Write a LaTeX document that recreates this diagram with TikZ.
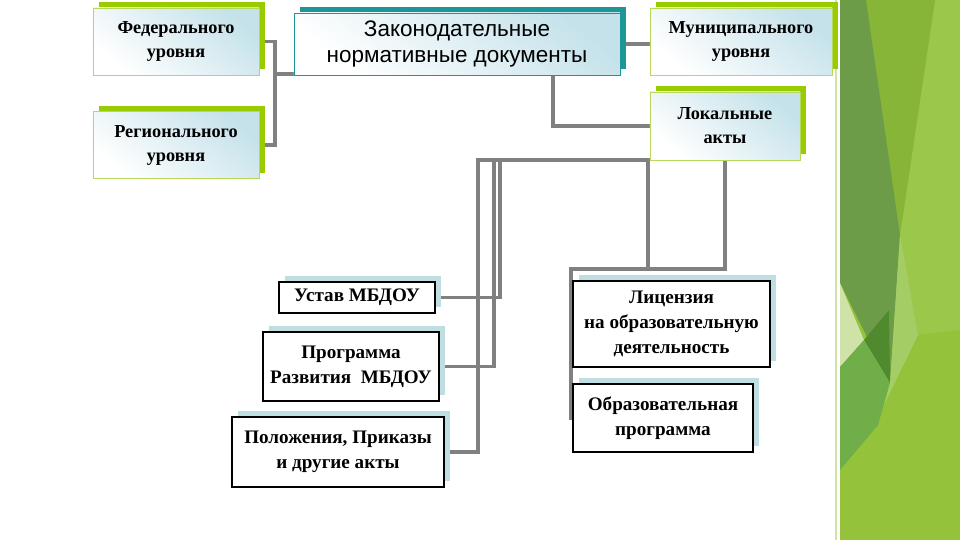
\documentclass[tikz,border=0pt]{standalone}
\usepackage{fontspec}
\setmainfont{Liberation Serif}
\setsansfont{Liberation Sans}
\usepackage{tikz}
\usetikzlibrary{positioning, calc, backgrounds, shadows}
\definecolor{cLime}{RGB}{153,204,0}
\definecolor{cTeal}{RGB}{28,150,150}
\definecolor{cEdge}{RGB}{185,215,90}
\definecolor{cIce}{RGB}{197,226,234}
\definecolor{cPale}{RGB}{190,222,226}
\definecolor{cWire}{RGB}{128,128,128}
% side panel greens
\definecolor{cLeaf}{RGB}{148,194,58}
\definecolor{cOlive}{RGB}{134,181,55}
\definecolor{cMoss}{RGB}{108,156,72}
\definecolor{cCream}{RGB}{207,226,167}
\definecolor{cForest}{RGB}{79,138,46}
\definecolor{cFern}{RGB}{111,174,73}
\definecolor{cSprout}{RGB}{164,205,101}
\definecolor{cLight}{RGB}{155,200,75}
\tikzset{
	level/.style={rectangle, draw=cEdge, line width=0.6pt, top color=cIce, bottom color=white, shading angle=-40, align=center, inner sep=2pt, font=\bfseries\fontsize{13}{17}\selectfont, general shadow={fill=cLime, shadow xshift=0.15cm, shadow yshift=0.15cm}},
	title/.style={rectangle, draw=cTeal, line width=0.6pt, top color=cIce, bottom color=white, shading angle=-40, align=center, inner sep=2pt, font=\sffamily\fontsize{16}{19}\selectfont, general shadow={fill=cTeal, shadow xshift=0.15cm, shadow yshift=0.15cm}},
	doc/.style={rectangle, draw=black, line width=0.8pt, fill=white, align=center, inner sep=2pt, font=\bfseries\fontsize{13.6}{17.5}\selectfont, general shadow={fill=cPale, shadow xshift=0.15cm, shadow yshift=0.15cm}},
	link/.style={draw=cWire, line width=2.8pt},
}
\begin{document}
\begin{tikzpicture}[x=0.025cm, y=-0.025cm]
	\useasboundingbox (0,0) rectangle (960,540);
	% side panel
	\fill[cLeaf] (840,0) rectangle (960,540);
	\fill[cLight] (935,0) -- (960,0) -- (960,330) -- (918,335) -- (900,235) -- cycle;
	\fill[cOlive] (866,0) -- (935,0) -- (900,235) -- cycle;
	\fill[cMoss] (840,0) -- (866,0) -- (900,235) -- (890,383) -- (840,283) -- cycle;
	\fill[cCream] (840,283) -- (864,340) -- (840,367) -- cycle;
	\fill[cForest] (864,340) -- (889,310) -- (890,383) -- cycle;
	\fill[cFern] (840,367) -- (864,340) -- (890,383) -- (878,425) -- (840,470) -- cycle;
	\fill[cSprout] (900,235) -- (918,335) -- (884,405) -- (890,383) -- cycle;
	\draw[cCream, line width=0.8pt] (836,0) -- (836,540);

	% upper level
	\node[level, minimum width=4.15cm, minimum height=1.675cm] (fed) at (176,41.5) {Федерального\\уровня};
	\node[level, minimum width=4.15cm, minimum height=1.675cm, below=0.9cm of fed] (reg) {Регионального\\уровня};
	\node[title, minimum width=8.15cm, minimum height=1.55cm] (zak) at (457,44) {Законодательные\\нормативные документы};
	\node[level, minimum width=4.55cm, minimum height=1.675cm] (mun) at (741,41.5) {Муниципального\\уровня};
	\node[level, minimum width=3.75cm, minimum height=1.7cm] (lok) at (725,126) {Локальные\\акты};

	% local documents
	\node[doc, minimum width=3.9cm, minimum height=0.775cm] (ust) at (357,297.5) {Устав МБДОУ};
	\node[doc, minimum width=4.4cm, minimum height=1.725cm] (prog) at (351,366.5) {Программа\\Развития\ \ МБДОУ};
	\node[doc, minimum width=5.3cm, minimum height=1.75cm] (pol) at (338,452) {Положения, Приказы\\и другие акты};
	\node[doc, minimum width=4.925cm, minimum height=2.15cm] (lic) at (671.5,324) {Лицензия\\на образовательную\\деятельность};
	\node[doc, minimum width=4.5cm, minimum height=1.7cm] (obr) at (663,418) {Образовательная\\программа};

	\begin{scope}[on background layer]
		\fill[white] (0,0) rectangle (836,540);
		\coordinate (lj) at (275,74);
		\coordinate (tl) at ($(lok.south west)+(-172,0)$);
		\coordinate (lc) at ($(lok.south west)+(-2,0)$);
		\coordinate (rj) at (571,269);
		\draw[link] (fed.east) -| (lj) |- (reg.east);
		\draw[link] (lj) -- (lj -| zak.west);
		\draw[link] (zak.east) -- (zak.east -| mun.west);
		\draw[link] ($(zak.south)+(96,0)$) |- (lok.west);
		\draw[link] (lok.south west) -- (tl) |- (pol.east);
		\draw[link] ($(tl)+(16,0)$) |- (prog.east);
		\draw[link] ($(tl)+(22,0)$) |- (ust.east);
		\draw[link] (lc) -- (lc |- rj);
		\draw[link] (lok.south) |- (rj) |- (obr.west);
	\end{scope}
\end{tikzpicture}
\end{document}
